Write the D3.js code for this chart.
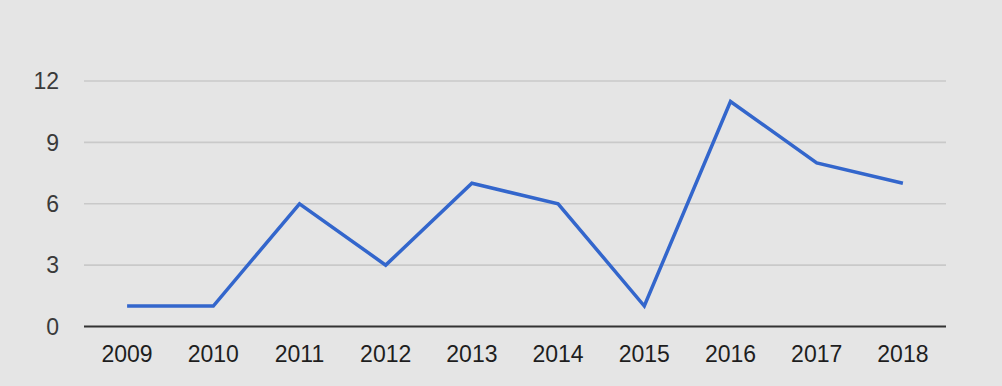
<!DOCTYPE html>
<html>
<head>
<meta charset="utf-8">
<script src="https://cdn.jsdelivr.net/npm/d3@7"></script>
<style>
  body { margin: 0; background: #e5e5e5; }
  svg { display: block; font-family: "Liberation Sans", Arial, sans-serif; }
</style>
</head>
<body>
<script>
// data
const years = ["2009", "2010", "2011", "2012", "2013", "2014", "2015", "2016", "2017", "2018"];
const counts = [1, 1, 6, 3, 7, 6, 1, 11, 8, 7];
const yTicks = [0, 3, 6, 9, 12];

const width = 1002, height = 386;
const margin = { top: 81, right: 56, bottom: 59, left: 84 };

const svg = d3.select("body").append("svg")
    .attr("width", width)
    .attr("height", height);

svg.append("rect")
    .attr("width", width)
    .attr("height", height)
    .attr("fill", "#e5e5e5");

const xScale = d3.scalePoint()
    .domain(years)
    .range([margin.left, width - margin.right])
    .padding(0.5);

const yScale = d3.scaleLinear()
    .domain([0, 12])
    .range([height - margin.bottom - 0.5, margin.top]);

// gridlines
svg.append("g")
    .selectAll("line")
    .data(yTicks.filter(d => d > 0))
    .enter().append("line")
    .attr("x1", margin.left)
    .attr("x2", width - margin.right)
    .attr("y1", d => yScale(d))
    .attr("y2", d => yScale(d))
    .attr("stroke", "#c9c9c9")
    .attr("stroke-width", 1.6);

// y labels
svg.append("g")
    .selectAll("text")
    .data(yTicks)
    .enter().append("text")
    .attr("x", 59)
    .attr("y", d => yScale(d))
    .attr("dy", "0.36em")
    .attr("text-anchor", "end")
    .attr("fill", "#3a3a3a")
    .style("font-size", "23px")
    .text(d => d);

// baseline
svg.append("line")
    .attr("x1", margin.left)
    .attr("x2", width - margin.right)
    .attr("y1", yScale(0))
    .attr("y2", yScale(0))
    .attr("stroke", "#333")
    .attr("stroke-width", 2);

// x labels
svg.append("g")
    .selectAll("text")
    .data(years)
    .enter().append("text")
    .attr("x", d => xScale(d))
    .attr("y", 362)
    .attr("text-anchor", "middle")
    .attr("fill", "#1e1e1e")
    .style("font-size", "23px")
    .text(d => d);

// line
const line = d3.line()
    .x((d, i) => xScale(years[i]))
    .y(d => yScale(d));

svg.append("path")
    .datum(counts)
    .attr("fill", "none")
    .attr("stroke", "#3366cc")
    .attr("stroke-width", 3.5)
    .attr("stroke-linejoin", "miter")
    .attr("d", line);
</script>
</body>
</html>
